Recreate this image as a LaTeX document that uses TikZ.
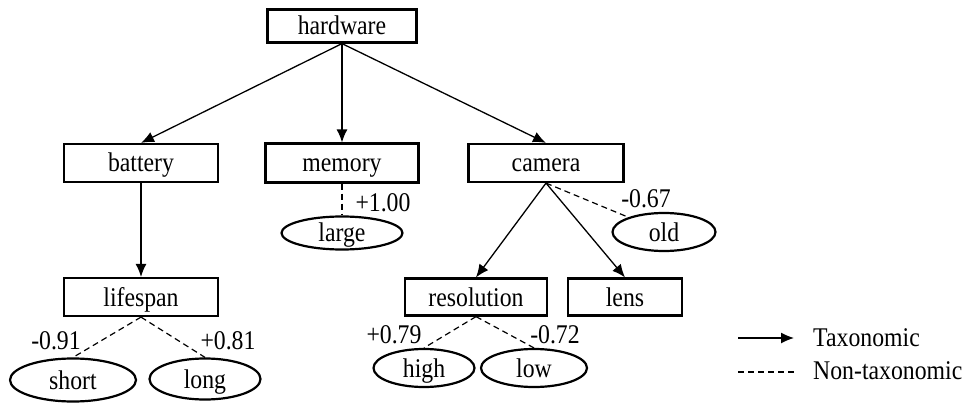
\documentclass[tikz,border=0pt]{standalone}
\usepackage{fontspec}
\setmainfont{Liberation Serif}[FakeStretch=0.88]
\usetikzlibrary{arrows.meta,shapes.geometric}
\tikzset{
  txt/.style={font=\fontsize{27}{31}\selectfont,text height=20pt,text depth=2pt},
  box/.style={txt,draw,line width=2.2pt,rectangle,inner sep=0pt},
  oval/.style={txt,draw,line width=2.2pt,ellipse,inner sep=0pt},
  lbl/.style={txt,inner sep=0pt},
  tax/.style={line width=1.3pt,-{Latex[length=13pt,width=11pt]}},
  ntax/.style={line width=1.2pt,dash pattern=on 6pt off 4pt},
}
\begin{document}
\begin{tikzpicture}[x=1pt,y=-1pt]
\useasboundingbox (0,0) rectangle (968,403);
\node[box,minimum width=149pt,minimum height=33pt] (hw) at (342,26) {hardware};
\node[box,minimum width=154pt,minimum height=38pt] (bat) at (141,163) {battery};
\node[box,minimum width=153pt,minimum height=39pt] (mem) at (342,163) {memory};
\node[box,minimum width=155pt,minimum height=38pt] (cam) at (546,163) {camera};
\node[box,minimum width=154pt,minimum height=38pt] (life) at (141,297) {lifespan};
\node[box,minimum width=142pt,minimum height=37pt] (res) at (476,297) {resolution};
\node[box,minimum width=114pt,minimum height=37pt] (lens) at (625,297) {lens};
\node[oval,minimum width=126pt,minimum height=43pt] (short) at (73,380) {short};
\node[oval,minimum width=111pt,minimum height=41pt] (long) at (205,379) {long};
\node[oval,minimum width=101pt,minimum height=38pt] (high) at (424,368) {high};
\node[oval,minimum width=106pt,minimum height=38pt] (low) at (534,368) {low};
\node[oval,minimum width=121pt,minimum height=33pt] (large) at (342,233) {large};
\node[oval,minimum width=103pt,minimum height=38pt] (old) at (664,232) {old};
\draw[tax] (hw.south) -- (bat.north);
\draw[tax] (hw.south) -- (mem.north);
\draw[tax] (hw.south) -- (cam.north);
\draw[tax] (bat.south) -- (life.north);
\draw[tax] (cam.south) -- (res.north);
\draw[tax] (cam.south) -- (lens.north);
\draw[ntax] (mem.south) -- (large.north);
\draw[ntax] (cam.south) -- (old);
\draw[ntax] (life.south) -- (short.north);
\draw[ntax] (life.south) -- (long.north);
\draw[ntax] (res.south) -- (high.north);
\draw[ntax] (res.south) -- (low.north);
\node[lbl] (l1) at (383,203) {+1.00};
\node[lbl] (l2) at (646,199) {-0.67};
\node[lbl] (l3) at (56,340) {-0.91};
\node[lbl] (l4) at (228,340) {+0.81};
\node[lbl] (l5) at (394,334) {+0.79};
\node[lbl] (l6) at (555,334) {-0.72};
\coordinate (ta) at (738,338);
\coordinate (tb) at (794,338);
\coordinate (na) at (738,372);
\coordinate (nb) at (794,372);
\draw[tax] (ta) -- (tb);
\draw[ntax] (na) -- (nb);
\node[lbl,anchor=west] (lt) at (813,337) {Taxonomic};
\node[lbl,anchor=west] (ln) at (813,370) {Non-taxonomic};
\end{tikzpicture}
\end{document}
